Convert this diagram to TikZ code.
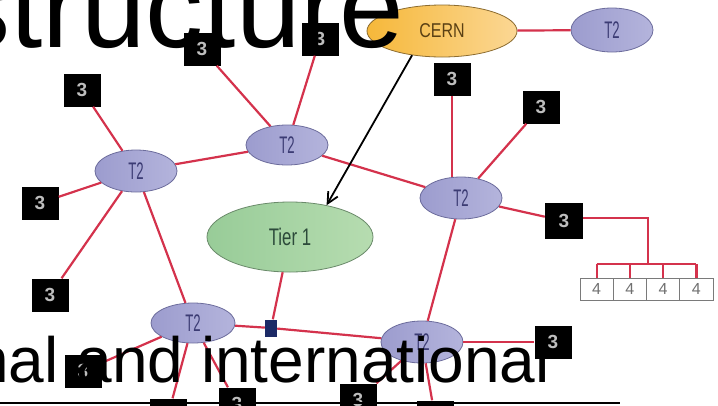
\documentclass[tikz,border=0pt]{standalone}
\usepackage{fontspec}
\setmainfont{Liberation Sans}
\usetikzlibrary{shapes.geometric,arrows.meta}
\definecolor{redline}{HTML}{D4324C}
\definecolor{tfillA}{HTML}{9C9CCE}
\definecolor{tfillB}{HTML}{B4B4DC}
\definecolor{tdraw}{HTML}{6C6C9C}
\definecolor{ttext}{HTML}{3C3C74}
\definecolor{cernA}{HTML}{F6B83A}
\definecolor{cernB}{HTML}{FBD794}
\definecolor{cerndraw}{HTML}{8C6C30}
\definecolor{cerntext}{HTML}{5A4014}
\definecolor{tierA}{HTML}{98CC98}
\definecolor{tierB}{HTML}{B6DCB0}
\definecolor{tierdraw}{HTML}{6A8A6A}
\definecolor{tiertext}{HTML}{2C4A3A}
\definecolor{boxtext}{HTML}{BEBEBE}
\definecolor{fourdraw}{HTML}{7A7A7A}
\definecolor{fourtext}{HTML}{707070}
\definecolor{sqfill}{HTML}{1C2A66}
\begin{document}
\begin{tikzpicture}[x=1pt,y=-1pt,
  tt/.style={ellipse,draw=tdraw,left color=tfillA,right color=tfillB,line width=0.8pt,
    minimum width=82pt,minimum height=42pt,inner sep=0pt,text=ttext,
    font=\fontsize{24}{24}\selectfont},
  bx/.style={rectangle,fill=black,minimum width=37pt,minimum height=33pt,inner sep=0pt,
    text=boxtext,font=\fontsize{19}{19}\selectfont\bfseries},
  four/.style={rectangle,draw=fourdraw,fill=white,line width=0.8pt,minimum width=33.25pt,
    minimum height=22pt,inner sep=0pt,text=fourtext,font=\fontsize{16}{16}\selectfont},
  link/.style={draw=redline,line width=2.2pt},
  bigtext/.style={inner sep=0pt,text=black}
]
\useasboundingbox (0,0) rectangle (718,405);
\clip (0,0) rectangle (718,405);
\fill[white] (0,0) rectangle (718,405);

% ellipses
\node[ellipse,draw=cerndraw,left color=cernA,right color=cernB,line width=0.8pt,
  minimum width=150pt,minimum height=52pt,inner sep=0pt,text=cerntext,
  font=\fontsize{20}{20}\selectfont] (cern) at (442,31) {\scalebox{0.8}[1]{CERN}};
\node[tt,minimum height=44pt] (t2ne) at (612,30) {\scalebox{0.55}[1]{T2}};
\node[tt,minimum height=40pt] (t2n) at (287,145) {\scalebox{0.55}[1]{T2}};
\node[tt] (t2w) at (136,171) {\scalebox{0.55}[1]{T2}};
\node[tt] (t2e) at (461,198) {\scalebox{0.55}[1]{T2}};
\node[tt,minimum width=84pt,minimum height=40pt] (t2sw) at (193,323) {\scalebox{0.55}[1]{T2}};
\node[tt] (t2s) at (422,342) {\scalebox{0.55}[1]{T2}};
\node[ellipse,draw=tierdraw,left color=tierA,right color=tierB,line width=0.8pt,
  minimum width=166pt,minimum height=70pt,inner sep=0pt,text=tiertext,
  font=\fontsize{24}{24}\selectfont] (tier) at (290,237) {\scalebox{0.7}[1]{Tier 1}};

% black boxes
\node[bx] (b1) at (452,79) {3};
\node[bx] (b2) at (541,107) {3};
\node[bx,minimum width=38pt,minimum height=36pt] (b3) at (564,221) {3};
\node[bx] (b4) at (202,49) {3};
\node[bx] (b5) at (320,39) {3};
\node[bx] (b6) at (82,90) {3};
\node[bx] (b7) at (40,203) {3};
\node[bx] (b8) at (50,295) {3};
\node[bx] (b9) at (83,371) {3};
\node[bx] (b10) at (168,415) {3};
\node[bx] (b11) at (237,404) {3};
\node[bx] (b12) at (358,400) {3};
\node[bx] (b13) at (435,417) {3};
\node[bx] (b14) at (553,342) {3};
\node[rectangle,fill=sqfill,minimum width=12pt,minimum height=17pt,inner sep=0pt] (sq) at (271,328) {};

% four boxes
\node[four] (f1) at (596.6,289) {4};
\node[four] (f2) at (629.9,289) {4};
\node[four] (f3) at (663.1,289) {4};
\node[four] (f4) at (696.4,289) {4};
\coordinate (j1) at (648,218);
\coordinate (j2) at (648,264);

% links
\draw[link] (cern) -- (t2ne);
\draw[link] (b1) -- (b1 |- t2e.north);
\draw[link] (b2) -- (t2e);
\draw[link] (t2e) -- (b3);
\draw[link] (t2n) -- (t2e);
\draw[link] (t2w) -- (t2n);
\draw[link] (b4) -- (t2n);
\draw[link] (b5) -- (t2n);
\draw[link] (b6) -- (t2w);
\draw[link] (b7) -- (t2w);
\draw[link] (t2w) -- (b8);
\draw[link] (t2w) -- (t2sw);
\draw[link] (tier) -- (sq);
\draw[link] (t2sw) -- (sq);
\draw[link] (sq) -- (t2s);
\draw[link] (t2e) -- (t2s);
\draw[link] (t2s) -- (b14);
\draw[link] (t2sw) -- (b9);
\draw[link] (t2sw) -- (b10);
\draw[link] (t2sw) -- (b11);
\draw[link] (t2s) -- (b12);
\draw[link] (t2s) -- (b13);
\draw[link] (b3.east |- j1) -- (j1) -- (j2);
\draw[link] (f1.north |- j2) -- (f4.north |- j2);
\draw[link] (f1.north |- j2) -- (f1.north);
\draw[link] (f2.north |- j2) -- (f2.north);
\draw[link] (f3.north |- j2) -- (f3.north);
\draw[link] (f4.north |- j2) -- (f4.north);

% arrow
\draw[black,line width=1.8pt,-{Straight Barb[length=11pt,width=11pt,line width=1.8pt]}] (cern.219) -- (tier.41);

% slide text on top
\node[bigtext,anchor=base east,font=\fontsize{116}{116}\selectfont] (title) at (404,47) {structure};
\node[bigtext,anchor=base east,font=\fontsize{64}{64}\selectfont] (body) at (550,382) {nal and international};
\coordinate (l1) at (0,403);
\coordinate (l2) at (620,403);
\draw[black,line width=1.5pt] (l1) -- (l2);
\end{tikzpicture}
\end{document}
